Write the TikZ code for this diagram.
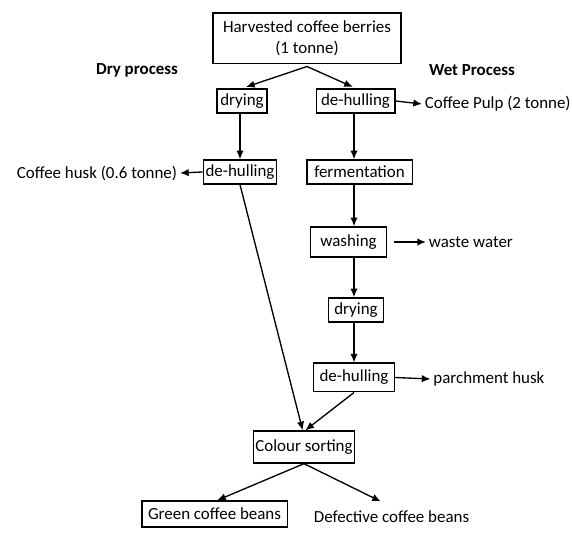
\documentclass[tikz,border=0pt]{standalone}
\usepackage{fontspec}
\setmainfont{Carlito}
\usetikzlibrary{arrows.meta, positioning}

\begin{document}
\begin{tikzpicture}[
    x=0.75pt, y=-0.75pt,
    every node/.style={
        font=\fontsize{12.7}{15.8}\selectfont,
    },
    stage/.style={
        draw,
        line width=1pt,
        inner sep=1pt,
        minimum height=18pt,
    },
    output/.style={
        inner sep=2pt,
    },
    heading/.style={
        font=\fontsize{12.7}{15.8}\selectfont\bfseries,
    },
    flow/.style={
        line width=1pt,
        -{Latex[length=6.5pt, width=5.5pt]},
    }
]
    \useasboundingbox (0,0) rectangle (572,538);
    \coordinate (wetaxis) at (354,0);

    % Start
    \node[stage, align=center, minimum width=141pt, minimum height=38pt] (berries) at (307,38.5)
        {Harvested coffee berries\\(1 tonne)};
    \node[heading] (dry) at (137,70) {Dry process};
    \node[heading] (wet) at (472,70) {Wet Process};

    % Dry process
    \node[stage, minimum width=37.5pt] (drydrying) at (242,101) {drying};
    \node[stage, minimum width=55pt] (drydehull) at (240,172) {de-hulling};
    \node[output, anchor=east] (husk) at (180,173) {Coffee husk (0.6 tonne)};

    % Wet process
    \node[stage, minimum width=59pt] (wetdehull) at (355.5,101) {de-hulling};
    \node[output, anchor=west] (pulp) at (422,104) {Coffee Pulp (2 tonne)};
    \node[stage, minimum width=79pt] (ferment) at (359.5,172) {fermentation};
    \node[stage, minimum width=57pt, minimum height=22.5pt] (washing) at (348.5,242) {washing};
    \node[output, anchor=west] (waste) at (426,242) {waste water};
    \node[stage, minimum width=41.5pt] (wetdrying) at (356,310) {drying};
    \node[stage, minimum width=60.5pt, minimum height=21.5pt] (parchdehull) at (354,377.5) {de-hulling};
    \node[output, anchor=west] (parchment) at (430.5,379) {parchment husk};

    % Sorting
    \node[stage, minimum width=76pt, minimum height=24pt] (sorting) at (304,447) {Colour sorting};
    \node[stage, minimum width=109pt, minimum height=19.5pt] (green) at (214.5,514) {Green coffee beans};
    \node[output] (defective) at (391.5,517) {Defective coffee beans};

    % Arrows
    \draw[flow] ([yshift=-1.5pt]berries.south) -- ([xshift=3pt, yshift=1pt]drydrying.north);
    \draw[flow] ([yshift=-1.5pt]berries.south) -- ([xshift=-2pt, yshift=1pt]wetdehull.north);
    \draw[flow] (drydrying.south -| drydehull.north) -- (drydehull.north);
    \draw[flow] (drydehull.west) -- (husk.east);
    \draw[flow] (wetdehull.east) -- (pulp.west);
    \draw[flow] (wetdehull.south -| wetaxis) -- (ferment.north -| wetaxis);
    \draw[flow] (ferment.south -| wetaxis) -- (washing.north -| wetaxis);
    \draw[flow, shorten <=5pt] (washing.east) -- (waste.west);
    \draw[flow] (washing.south -| wetaxis) -- (wetdrying.north -| wetaxis);
    \draw[flow] (wetdrying.south -| wetaxis) -- (parchdehull.north -| wetaxis);
    \draw[flow] (parchdehull.east) -- (parchment.west);
    \draw[flow] (drydehull.south) -- ([xshift=-1pt]sorting.north);
    \draw[flow] (parchdehull.south) -- ([xshift=1pt]sorting.north);
    \draw[flow] (sorting.south) -- ([xshift=2pt]green.north);
    \draw[flow] (sorting.south) -- ([xshift=-8pt, yshift=5pt]defective.north);
\end{tikzpicture}
\end{document}
